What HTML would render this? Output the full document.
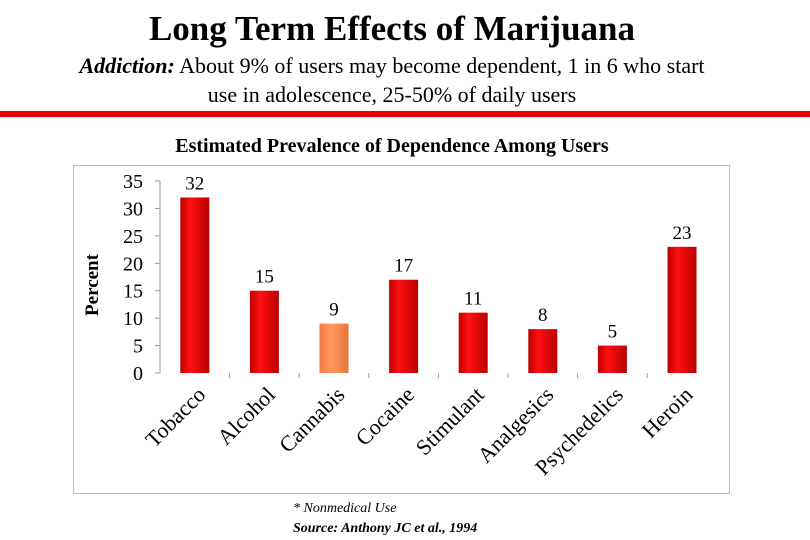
<!DOCTYPE html>
<html><head><meta charset="utf-8"><style>
body{margin:0;width:810px;height:540px;background:#fff;overflow:hidden;font-family:"Liberation Serif","DejaVu Serif",serif}
svg text{font-family:"Liberation Serif","Times New Roman","DejaVu Serif",serif}
</style></head><body>
<svg width="810" height="540" style="position:absolute;left:0;top:0">
<defs>
<linearGradient id="rg" x1="0" x2="1"><stop offset="0" stop-color="#c00000"/><stop offset="0.35" stop-color="#ff1010"/><stop offset="1" stop-color="#b80000"/></linearGradient>
<linearGradient id="og" x1="0" x2="1"><stop offset="0" stop-color="#f07a40"/><stop offset="0.4" stop-color="#ff9a60"/><stop offset="1" stop-color="#e8743a"/></linearGradient>
</defs>
<text x="392" y="40" text-anchor="middle" font-size="35" font-weight="bold">Long Term Effects of Marijuana</text>
<text x="392" y="73" text-anchor="middle" font-size="22"><tspan font-style="italic" font-weight="bold">Addiction:</tspan> About 9% of users may become dependent, 1 in 6 who start</text>
<text x="392" y="102" text-anchor="middle" font-size="22">use in adolescence, 25-50% of daily users</text>
<rect x="0" y="111" width="810" height="6" fill="#f00000"/>
<text x="392" y="152" text-anchor="middle" font-size="20" font-weight="bold">Estimated Prevalence of Dependence Among Users</text>
<rect x="73.5" y="165.5" width="656" height="328" fill="none" stroke="#bbb"/>
<text transform="translate(98,285) rotate(-90)" text-anchor="middle" font-size="19" font-weight="bold">Percent</text>
<g id="chart"></g>
<text x="293" y="512" font-size="14" font-style="italic">* Nonmedical Use</text>
<text x="293" y="532" font-size="14" font-style="italic" font-weight="bold">Source: Anthony JC et al., 1994</text>
</svg>
<script>
const categories=["Tobacco","Alcohol","Cannabis","Cocaine","Stimulant","Analgesics","Psychedelics","Heroin"];
const values=[32,15,9,17,11,8,5,23];
const yTicks=[0,5,10,15,20,25,30,35];
const highlight="Cannabis";
const NS="http://www.w3.org/2000/svg";
const g=document.getElementById('chart');
const x0=160,bw=69.6,y0=373,ppu=192/35;
const y=v=>y0-v*ppu;
const xc=i=>x0+bw*(i+0.5);
function mk(t,a){const e=document.createElementNS(NS,t);for(const k in a)e.setAttribute(k,a[k]);g.appendChild(e);return e;}
let ax=mk('line',{x1:x0,y1:y(35),x2:x0,y2:y0,stroke:'#999'});


yTicks.forEach(t=>{
 const l=mk('line',{x1:x0-5,x2:x0,y1:y(t),y2:y(t),stroke:'#999'});
 
 
 const tx=mk('text',{x:x0-17,y:y(t)+7,'text-anchor':'end','font-size':20});
 tx.textContent=t;
 
 
});
categories.forEach((c,i)=>{
 if(i>0){const l=mk('line',{x1:x0+bw*i,x2:x0+bw*i,y1:y0,y2:y0+5,stroke:'#999'});
 
 }
 const v=values[i];
 const r=mk('rect',{x:xc(i)-14.5,y:y(v),width:29,height:v*ppu,fill:c===highlight?'url(#og)':'url(#rg)'});
 
 
 const lb=mk('text',{x:xc(i),y:y(v)-8,'text-anchor':'middle','font-size':19});
 lb.textContent=v;
 
 
 const cl=mk('text',{transform:`translate(${xc(i)+12},${y0+23}) rotate(-45)`,'text-anchor':'end','font-size':22});
 cl.textContent=c;
 
 
});
</script>
</body></html>
